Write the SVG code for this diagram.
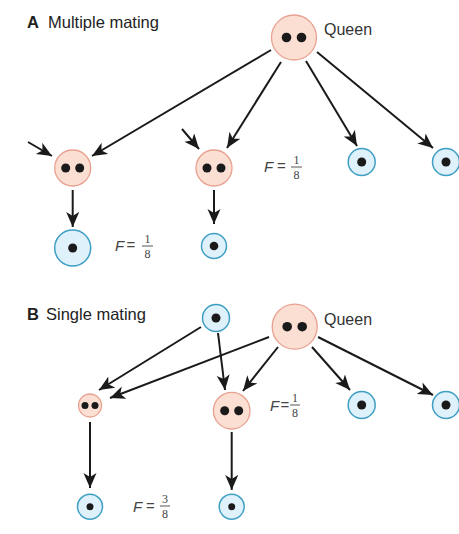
<svg xmlns="http://www.w3.org/2000/svg" width="459" height="534" viewBox="0 0 459 534">
<defs>
<marker id="ah" markerUnits="userSpaceOnUse" markerWidth="17" markerHeight="14" refX="15" refY="6.5" orient="auto">
<path d="M0,0 L15,6.5 L0,13 L4,6.5 Z" fill="#1a1a1a"/>
</marker>
</defs>
<style>
.pink{fill:#fcdfd3;stroke:#e8a190;stroke-width:1.3}
.blue{fill:#dff1fb;stroke:#3f9fc3;stroke-width:1.5}
.dot{fill:#1a1a1a}
.arr{stroke:#1a1a1a;stroke-width:2;fill:none;marker-end:url(#ah)}
.title{font-family:"Liberation Sans",Arial,sans-serif;font-size:16.5px;fill:#222}
.lbl{font-family:"Liberation Sans",Arial,sans-serif;font-size:16px;fill:#333}
.fv{font-family:"Liberation Sans",Arial,sans-serif;font-size:15px;fill:#444}
.fi{font-family:"Liberation Sans",Arial,sans-serif;font-style:italic;font-size:15px;fill:#444}
.fr{font-family:"Liberation Serif","Times New Roman",serif;font-size:12px;fill:#444;text-anchor:middle}
.fl{stroke:#444;stroke-width:0.9}
</style>
<rect width="459" height="534" fill="#fff"/>

<g id="titleA">
<text class="title" x="27" y="28" font-weight="bold">A</text>
<text class="title" x="48" y="28">Multiple mating</text>
</g>
<g id="titleB">
<text class="title" x="27" y="320" font-weight="bold">B</text>
<text class="title" x="46" y="320">Single mating</text>
</g>

<g id="connectors">
<line class="arr" x1="271" y1="50" x2="92" y2="156"/>
<line class="arr" x1="281" y1="62" x2="227" y2="148"/>
<line class="arr" x1="306" y1="61" x2="357" y2="146"/>
<line class="arr" x1="317" y1="52" x2="433" y2="148"/>
<line class="arr" x1="28" y1="142" x2="52" y2="156"/>
<line class="arr" x1="182" y1="129" x2="199" y2="149"/>
<line class="arr" x1="72.7" y1="190" x2="72.7" y2="227"/>
<line class="arr" x1="214" y1="190" x2="214" y2="224"/>

<line class="arr" x1="201" y1="327" x2="99" y2="390"/>
<line class="arr" x1="269" y1="337" x2="110" y2="398"/>
<line class="arr" x1="218" y1="333" x2="225" y2="390"/>
<line class="arr" x1="278" y1="347" x2="243" y2="391"/>
<line class="arr" x1="312" y1="347" x2="350" y2="390"/>
<line class="arr" x1="318" y1="337" x2="433" y2="395"/>
<line class="arr" x1="90" y1="422" x2="90" y2="488"/>
<line class="arr" x1="231.7" y1="432" x2="231.7" y2="490"/>
</g>

<g id="queenA">
<circle class="pink" cx="294" cy="37.5" r="22.5"/>
<circle class="dot" cx="286.5" cy="37.5" r="4.8"/>
<circle class="dot" cx="301.5" cy="37.5" r="4.8"/>
<text class="lbl" x="324" y="35">Queen</text>
</g>
<g id="workerA1">
<circle class="pink" cx="72.7" cy="168" r="18"/>
<circle class="dot" cx="65.7" cy="168" r="4.5"/>
<circle class="dot" cx="79.7" cy="168" r="4.5"/>
</g>
<g id="workerA2">
<circle class="pink" cx="214" cy="168" r="18"/>
<circle class="dot" cx="207" cy="168" r="4.5"/>
<circle class="dot" cx="221" cy="168" r="4.5"/>
</g>
<g id="maleA1">
<circle class="blue" cx="361.7" cy="162" r="13.5"/>
<circle class="dot" cx="361.7" cy="162" r="4.5"/>
</g>
<g id="maleA2">
<circle class="blue" cx="446" cy="162" r="13.5"/>
<circle class="dot" cx="446" cy="162" r="4.5"/>
</g>
<g id="sonA1">
<circle class="blue" cx="72.7" cy="248" r="18"/>
<circle class="dot" cx="72.7" cy="248" r="4.5"/>
</g>
<g id="sonA2">
<circle class="blue" cx="214" cy="246" r="12.5"/>
<circle class="dot" cx="214" cy="246" r="4.3"/>
</g>
<g id="fA1">
<text class="fi" x="115" y="251">F</text>
<text class="fv" x="126.5" y="250">=</text>
<line class="fl" x1="142" y1="246" x2="153" y2="246"/>
<text class="fr" x="147.5" y="243">1</text>
<text class="fr" x="147.5" y="257.5">8</text>
</g>
<g id="fA2">
<text class="fi" x="264" y="172">F</text>
<text class="fv" x="277" y="171">=</text>
<line class="fl" x1="291" y1="167" x2="302" y2="167"/>
<text class="fr" x="296.5" y="164">1</text>
<text class="fr" x="296.5" y="178.5">8</text>
</g>

<g id="queenB">
<circle class="pink" cx="294.7" cy="326.7" r="22.5"/>
<circle class="dot" cx="287.2" cy="326.7" r="4.8"/>
<circle class="dot" cx="302.2" cy="326.7" r="4.8"/>
<text class="lbl" x="324" y="325">Queen</text>
</g>
<g id="fatherB">
<circle class="blue" cx="216" cy="318" r="13.5"/>
<circle class="dot" cx="216" cy="318" r="4.5"/>
</g>
<g id="workerB1">
<circle class="pink" cx="90" cy="405.5" r="11.5"/>
<circle class="dot" cx="85" cy="405.5" r="3.5"/>
<circle class="dot" cx="95" cy="405.5" r="3.5"/>
</g>
<g id="workerB2">
<circle class="pink" cx="231.7" cy="410.7" r="18.3"/>
<circle class="dot" cx="224.7" cy="410.7" r="4.5"/>
<circle class="dot" cx="238.7" cy="410.7" r="4.5"/>
</g>
<g id="maleB1">
<circle class="blue" cx="361.7" cy="405" r="13.5"/>
<circle class="dot" cx="361.7" cy="405" r="4.5"/>
</g>
<g id="maleB2">
<circle class="blue" cx="446" cy="405" r="13.5"/>
<circle class="dot" cx="446" cy="405" r="4.5"/>
</g>
<g id="sonB1">
<circle class="blue" cx="90" cy="506.7" r="12.5"/>
<circle class="dot" cx="90" cy="506.7" r="3.5"/>
</g>
<g id="sonB2">
<circle class="blue" cx="231.7" cy="506.7" r="12.5"/>
<circle class="dot" cx="231.7" cy="506.7" r="3.5"/>
</g>
<g id="fB1">
<text class="fi" x="270" y="411">F</text>
<text class="fv" x="280.5" y="410">=</text>
<line class="fl" x1="290" y1="405" x2="300" y2="405"/>
<text class="fr" x="295" y="402">1</text>
<text class="fr" x="295" y="416.5">8</text>
</g>
<g id="fB2">
<text class="fi" x="133" y="512">F</text>
<text class="fv" x="146" y="511">=</text>
<line class="fl" x1="160" y1="506" x2="170" y2="506"/>
<text class="fr" x="165" y="503">3</text>
<text class="fr" x="165" y="517.5">8</text>
</g>
</svg>
